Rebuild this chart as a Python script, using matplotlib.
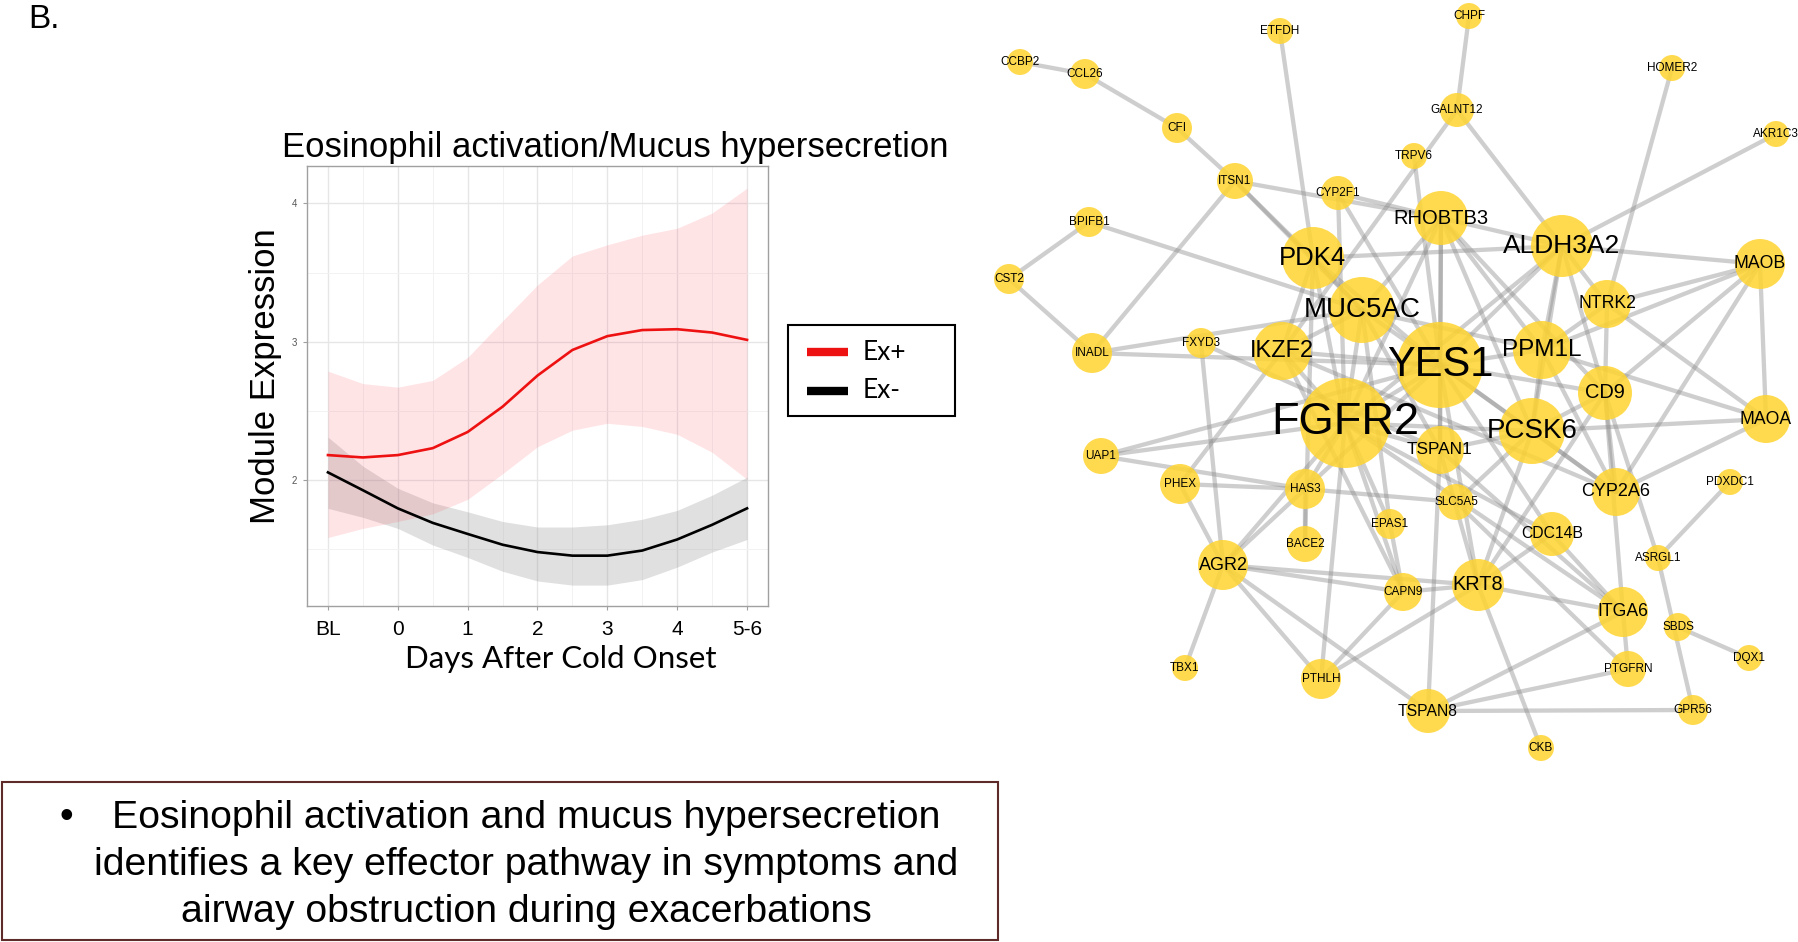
import matplotlib
matplotlib.use("Agg")
import matplotlib.pyplot as plt
from matplotlib.patches import Circle, Rectangle
from matplotlib.collections import LineCollection

plt.rcParams["font.family"] = ["Liberation Sans", "DejaVu Sans"]

# ---------------- trajectory data ----------------
day_labels = ["BL", "0", "1", "2", "3", "4", "5-6"]
t = [0, 0.5, 1, 1.5, 2, 2.5, 3, 3.5, 4, 4.5, 5, 5.5, 6]

ex_pos_fit = [2.18, 2.163, 2.18, 2.23, 2.347, 2.53, 2.755, 2.94, 3.04, 3.084, 3.09, 3.066, 3.013]
ex_pos_hi = [2.787, 2.697, 2.671, 2.72, 2.886, 3.15, 3.41, 3.62, 3.70, 3.77, 3.82, 3.93, 4.11]
ex_pos_lo = [1.584, 1.65, 1.70, 1.755, 1.86, 2.045, 2.24, 2.36, 2.41, 2.387, 2.33, 2.20, 2.005]

ex_neg_fit = [2.055, 1.926, 1.795, 1.69, 1.61, 1.532, 1.479, 1.453, 1.453, 1.49, 1.57, 1.676, 1.795]
ex_neg_hi = [2.31, 2.10, 1.94, 1.835, 1.77, 1.70, 1.66, 1.66, 1.676, 1.716, 1.78, 1.89, 2.02]
ex_neg_lo = [1.795, 1.73, 1.65, 1.53, 1.44, 1.34, 1.27, 1.24, 1.24, 1.28, 1.37, 1.479, 1.57]

group_labels = ["Ex+", "Ex-"]
group_colors = ["#ee1111", "black"]

# ---------------- network data ----------------
genes = ["ETFDH", "CCBP2", "CCL26", "CFI", "ITSN1", "CYP2F1", "BPIFB1", "CST2",
         "PDK4", "MUC5AC", "CHPF", "HOMER2", "GALNT12", "TRPV6", "AKR1C3",
         "RHOBTB3", "ALDH3A2", "MAOB", "NTRK2", "INADL", "FXYD3", "IKZF2",
         "FGFR2", "UAP1", "PHEX", "HAS3", "BACE2", "AGR2", "EPAS1", "YES1",
         "PPM1L", "CD9", "MAOA", "PCSK6", "TSPAN1", "CYP2A6", "PDXDC1",
         "SLC5A5", "CDC14B", "ASRGL1", "KRT8", "CAPN9", "ITGA6", "SBDS",
         "DQX1", "PTGFRN", "TSPAN8", "GPR56", "CKB", "TBX1", "PTHLH"]
node_x = [1280, 1020, 1085, 1177, 1235, 1338, 1089, 1009,
          1313, 1362, 1469, 1672, 1457, 1414, 1776,
          1441, 1562, 1760, 1607, 1092, 1201, 1282,
          1345, 1101, 1180, 1305, 1305, 1223, 1390, 1440,
          1542, 1605, 1766, 1532, 1440, 1616, 1730,
          1456, 1552, 1658, 1478, 1403, 1623, 1678,
          1749, 1628, 1428, 1693, 1541, 1185, 1321]
node_y = [31, 62, 74, 128, 181, 193, 222, 279,
          258, 310, 16, 68, 110, 156, 134,
          218, 246, 264, 304, 353, 343, 351,
          423, 456, 484, 489, 544, 565, 524, 365,
          350, 393, 419, 431, 450, 492, 482,
          502, 534, 558, 585, 592, 612, 627,
          658, 669, 711, 710, 748, 668, 679]
node_r = [13, 13, 15, 15, 18, 17, 15, 15,
          31, 33, 13, 13, 17, 13, 13,
          27, 31, 25, 24, 20, 15, 29,
          45, 18, 20, 20, 18, 25, 15, 43,
          29, 27, 24, 33, 24, 24, 13,
          18, 22, 13, 26, 19, 25, 14,
          13, 18, 22, 15, 13, 13, 20]
label_pt = [8.5, 8.5, 8.5, 8.5, 8.5, 8.5, 8.5, 8.5,
            18.5, 20, 8.5, 8.5, 8.5, 8.5, 8.5,
            14.5, 19, 12.7, 12.7, 8.5, 8.5, 17,
            32.5, 8.5, 8.5, 8.5, 8.5, 13, 8.5, 30,
            17.5, 14.4, 12.7, 20, 12.4, 13, 8.5,
            8.5, 11.3, 8.5, 14.3, 8.5, 12.7, 8.5,
            8.5, 8.5, 11.3, 8.5, 8.5, 8.5, 8.5]

edges = [
    ("CCBP2", "CCL26"), ("CCL26", "CFI"), ("CFI", "ITSN1"), ("ETFDH", "PDK4"),
    ("CHPF", "GALNT12"), ("GALNT12", "ALDH3A2"), ("GALNT12", "IKZF2"), ("TRPV6", "YES1"),
    ("HOMER2", "NTRK2"), ("AKR1C3", "ALDH3A2"), ("ALDH3A2", "MAOB"), ("RHOBTB3", "ALDH3A2"),
    ("BPIFB1", "CST2"), ("BPIFB1", "MUC5AC"), ("CST2", "INADL"), ("ITSN1", "INADL"),
    ("ITSN1", "RHOBTB3"), ("CYP2F1", "RHOBTB3"), ("ITSN1", "PDK4"), ("ITSN1", "MUC5AC"),
    ("CYP2F1", "FGFR2"), ("CYP2F1", "YES1"), ("INADL", "MUC5AC"), ("INADL", "YES1"),
    ("FXYD3", "AGR2"), ("FXYD3", "TSPAN1"), ("PHEX", "IKZF2"), ("UAP1", "YES1"),
    ("UAP1", "FGFR2"), ("UAP1", "HAS3"), ("PHEX", "HAS3"), ("PHEX", "AGR2"),
    ("HAS3", "SLC5A5"), ("HAS3", "BACE2"), ("AGR2", "HAS3"), ("AGR2", "FGFR2"),
    ("AGR2", "CAPN9"), ("AGR2", "KRT8"), ("AGR2", "PTHLH"), ("AGR2", "TBX1"),
    ("AGR2", "TSPAN8"), ("PTHLH", "CAPN9"), ("PTHLH", "KRT8"), ("PTHLH", "FGFR2"),
    ("KRT8", "CKB"), ("KRT8", "ITGA6"), ("KRT8", "CAPN9"), ("KRT8", "TSPAN1"),
    ("KRT8", "PCSK6"), ("KRT8", "CD9"), ("TSPAN8", "ITGA6"), ("TSPAN8", "PTGFRN"),
    ("TSPAN8", "GPR56"), ("TSPAN8", "TSPAN1"), ("ITGA6", "PTGFRN"), ("SLC5A5", "PTGFRN"),
    ("CD9", "ITGA6"), ("ASRGL1", "PDXDC1"), ("ASRGL1", "GPR56"), ("CD9", "ASRGL1"),
    ("SBDS", "DQX1"), ("MAOA", "CYP2A6"), ("MAOA", "PCSK6"), ("NTRK2", "MAOA"),
    ("PPM1L", "MAOA"), ("MAOB", "MAOA"), ("MAOB", "NTRK2"), ("MAOB", "PPM1L"),
    ("MAOB", "CD9"), ("MAOB", "CYP2A6"), ("NTRK2", "ALDH3A2"), ("NTRK2", "PPM1L"),
    ("NTRK2", "CD9"), ("ALDH3A2", "PPM1L"), ("ALDH3A2", "YES1"), ("ALDH3A2", "CD9"),
    ("ALDH3A2", "PCSK6"), ("ALDH3A2", "PDK4"), ("ALDH3A2", "FGFR2"),
    ("RHOBTB3", "YES1"), ("RHOBTB3", "PPM1L"), ("RHOBTB3", "PCSK6"), ("RHOBTB3", "MUC5AC"),
    ("RHOBTB3", "FGFR2"), ("RHOBTB3", "TSPAN1"), ("RHOBTB3", "CD9"),
    ("PDK4", "MUC5AC"), ("PDK4", "YES1"), ("PDK4", "FGFR2"), ("PDK4", "IKZF2"), ("PDK4", "BACE2"),
    ("MUC5AC", "YES1"), ("MUC5AC", "FGFR2"), ("MUC5AC", "IKZF2"), ("MUC5AC", "PPM1L"),
    ("MUC5AC", "TSPAN1"), ("MUC5AC", "EPAS1"),
    ("FGFR2", "YES1"), ("FGFR2", "PCSK6"), ("FGFR2", "TSPAN1"), ("FGFR2", "CDC14B"),
    ("FGFR2", "EPAS1"), ("FGFR2", "CAPN9"), ("FGFR2", "HAS3"), ("FGFR2", "ITGA6"), ("FGFR2", "IKZF2"),
    ("YES1", "PPM1L"), ("YES1", "PCSK6"), ("YES1", "CD9"), ("YES1", "TSPAN1"), ("YES1", "CYP2A6"),
    ("YES1", "CDC14B"), ("YES1", "KRT8"), ("YES1", "HAS3"), ("YES1", "IKZF2"),
    ("PCSK6", "CD9"), ("PCSK6", "PPM1L"), ("PCSK6", "CYP2A6"), ("PCSK6", "TSPAN1"), ("PCSK6", "SLC5A5"),
    ("EPAS1", "CAPN9"), ("CDC14B", "ITGA6"), ("CDC14B", "KRT8"), ("TSPAN1", "ITGA6"),
    ("IKZF2", "CAPN9"), ("IKZF2", "CYP2A6"), ("PPM1L", "CYP2A6"), ("CD9", "CYP2A6"),
]

summary_lines = ["Eosinophil activation and mucus hypersecretion",
                 "identifies a key effector pathway in symptoms and",
                 "airway obstruction during exacerbations"]

W, H = 1799, 942
fig = plt.figure(figsize=(W / 100, H / 100), dpi=100)
fig.patch.set_facecolor("white")

# canvas axes in pixel units, for the network and the free text
canvas = fig.add_axes([0, 0, 1, 1])
canvas.set_xlim(0, W)
canvas.set_ylim(H, 0)
canvas.axis("off")
canvas.patch.set_visible(False)

pos = {g: (x, y) for g, x, y in zip(genes, node_x, node_y)}
segs = [[pos[a], pos[b]] for a, b in edges]
canvas.add_collection(LineCollection(segs, colors=(0.55, 0.55, 0.55), alpha=0.42,
                                     linewidths=3.1, zorder=1, capstyle="round"))
for g, x, y, r, fs in zip(genes, node_x, node_y, node_r, label_pt):
    canvas.add_patch(Circle((x, y), r, facecolor="#FFD430", edgecolor="none",
                            alpha=0.85, zorder=2))
    canvas.text(x, y, g, fontsize=fs, ha="center", va="center", color="black", zorder=3)

# panel letter
canvas.text(28, 19, "B.", fontsize=24, ha="left", va="center")

# summary box
canvas.add_patch(Rectangle((2, 782), 996, 158, facecolor="none", edgecolor="#5e2a2a",
                           linewidth=1.5, zorder=2))
canvas.text(66, 818, "\u2022", fontsize=28.3, ha="center", va="center")
for i, line in enumerate(summary_lines):
    canvas.text(526, 818 + 47 * i, line, fontsize=28.3, ha="center", va="center")

# legend, drawn by hand so its box matches the original
lx0, ly0, lw_box, lh_box = 788, 325, 167, 91
canvas.add_patch(Rectangle((lx0, ly0), lw_box, lh_box, facecolor="white", edgecolor="black",
                           linewidth=1.5, zorder=4))
for i, (lab, col) in enumerate(zip(group_labels, group_colors)):
    yy = ly0 + 27 + 39 * i
    canvas.plot([lx0 + 19, lx0 + 60], [yy, yy], color=col, lw=6, solid_capstyle="butt", zorder=5)
    canvas.text(lx0 + 75, yy, lab, fontsize=19, ha="left", va="center",
                family=["Lato", "DejaVu Sans"], zorder=5)

# ---------------- trajectory panel ----------------
ax = fig.add_axes([307 / W, 1 - 606 / H, 461 / W, 440 / H])
ax.set_facecolor("white")
ax.fill_between(t, ex_neg_lo, ex_neg_hi, color="#999999", alpha=0.3, linewidth=0, zorder=2)
ax.fill_between(t, ex_pos_lo, ex_pos_hi, color="#ff3344", alpha=0.13, linewidth=0, zorder=2)
ax.plot(t, ex_pos_fit, color=group_colors[0], lw=1.9, zorder=3)
ax.plot(t, ex_neg_fit, color=group_colors[1], lw=1.9, zorder=3)

ax.set_xlim(-0.3, 6.3)
ax.set_ylim(1.089, 4.27)
ax.set_xticks(range(len(day_labels)))
ax.set_xticklabels(day_labels)
ax.set_xticks([i + 0.5 for i in range(6)], minor=True)
ax.set_yticks([2, 3, 4])
ax.set_yticks([1.5, 2.5, 3.5], minor=True)
ax.grid(which="major", color="#e6e6e6", lw=1.0, zorder=0)
ax.grid(which="minor", color="#f2f2f2", lw=0.7, zorder=0)
ax.set_axisbelow(True)
for sp in ax.spines.values():
    sp.set_color("#a0a0a0")
    sp.set_linewidth(1.0)
ax.tick_params(axis="x", which="major", labelsize=15, colors="#a0a0a0", labelcolor="black",
               length=3, pad=7)
ax.tick_params(axis="y", which="major", labelsize=7, colors="#a0a0a0", labelcolor="#555555",
               length=3, pad=4)
ax.tick_params(which="minor", length=0)

fig.text(615 / W, 1 - 148 / H, "Eosinophil activation/Mucus hypersecretion",
         fontsize=25, ha="center", va="center")
fig.text(265 / W, 1 - 376 / H, "Module Expression", fontsize=25, rotation=90,
         ha="center", va="center")
fig.text(561 / W, 1 - 659 / H, "Days After Cold Onset", fontsize=22.5,
         ha="center", va="center", family=["Lato", "DejaVu Sans"])

fig.savefig("out.png", dpi=100, facecolor="white")
